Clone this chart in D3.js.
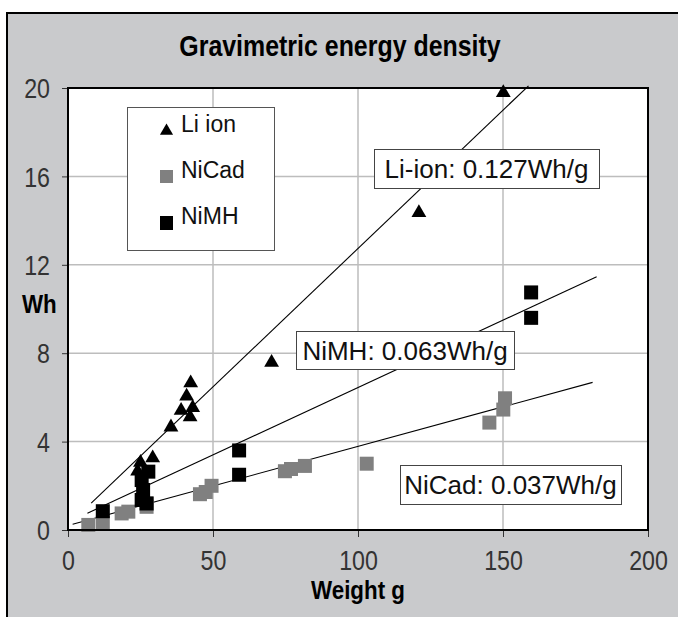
<!DOCTYPE html>
<html><head><meta charset="utf-8">
<script src="https://cdn.jsdelivr.net/npm/d3@7"></script>
<style>body{margin:0;background:#fff}svg{display:block}</style>
</head><body>
<svg id="c" width="678" height="617"></svg>
<script>
const xTicks = [0, 50, 100, 150, 200];
const yTicks = [0, 4, 8, 12, 16, 20];
const liIon = [[24,2.7],[25,3.1],[29.2,3.3],[35.5,4.7],[39,5.45],[42.1,5.16],[43,5.58],[40.9,6.1],[42.3,6.7],[70.2,7.62],[121,14.4],[150.1,19.83]];
const niCad = [[7,0.23],[12,0.33],[18.5,0.75],[20.8,0.83],[27.1,1.05],[27.1,1.2],[45.5,1.62],[47.5,1.72],[49.5,2.0],[74.8,2.66],[76.9,2.76],[81.7,2.9],[103,3.0],[145.3,4.86],[150.1,5.45],[150.7,5.96]];
const niMH = [[12,0.85],[27.1,1.2],[25.4,1.36],[25.9,1.81],[25.4,2.26],[27.7,2.64],[59,2.5],[59,3.6],[159.7,9.6],[159.7,10.75]];
const trendLi = [[8,1.22],[158.8,20.1]];
const trendNiMH = [[6.7,0.76],[182.3,11.46]];
const trendNiCad = [[1.6,0.26],[180.9,6.68]];
const labels = ["Li-ion: 0.127Wh/g", "NiMH: 0.063Wh/g", "NiCad: 0.037Wh/g"];
const legendNames = ["Li ion", "NiCad", "NiMH"];

const svg = d3.select("#c");
const font = "'Liberation Sans', Arial, sans-serif";
const L = 68, R = 648, T = 88, B = 530;
const x = d3.scaleLinear().domain([0,200]).range([L,R]);
const y = d3.scaleLinear().domain([0,20]).range([B,T]);
const SX = 0.86;

// outer frame
svg.append("rect").attr("x",7).attr("y",13).attr("width",690).attr("height",630)
  .attr("fill","#c9cacc").attr("stroke","#000").attr("stroke-width",2);

function narrowText(px, py, txt, size, bold, anchor){
  svg.append("g").attr("transform",`translate(${px},${py}) scale(${SX},1)`)
    .append("text").attr("text-anchor",anchor)
    .attr("font-family",font).attr("font-weight",bold?"bold":"normal")
    .attr("font-size",size).attr("fill","#000").text(txt);
}
// title
narrowText(340, 56, "Gravimetric energy density", 29, true, "middle");

// plot area
svg.append("rect").attr("x",L).attr("y",T).attr("width",R-L).attr("height",B-T).attr("fill","#fff");
// grid
const g = svg.append("g");
g.selectAll(".gx").data(xTicks.slice(1,-1)).join("line")
  .attr("x1",d=>x(d)).attr("x2",d=>x(d)).attr("y1",T).attr("y2",B)
  .attr("stroke","#bdbdbd").attr("stroke-width",1.5);
g.selectAll(".gy").data(yTicks.slice(1,-1)).join("line")
  .attr("y1",d=>y(d)).attr("y2",d=>y(d)).attr("x1",L).attr("x2",R)
  .attr("stroke","#bdbdbd").attr("stroke-width",1.5);

// axes
const xAxis = d3.axisBottom(x).tickValues(xTicks).tickSize(7).tickSizeOuter(0).tickPadding(10);
const yAxis = d3.axisLeft(y).tickValues(yTicks).tickSize(6).tickSizeOuter(0).tickPadding(10);
const gx = svg.append("g").attr("transform",`translate(0,${B})`).call(xAxis);
const gy = svg.append("g").attr("transform",`translate(${L},0)`).call(yAxis);
[gx,gy].forEach(a=>{
  a.select(".domain").remove();
  a.selectAll("line").attr("stroke","#333").attr("stroke-width",1);
  a.selectAll("text").attr("font-family",font).attr("font-size",27).attr("fill","#333")
    .attr("transform",`scale(${SX},1)`);
});
gx.selectAll("text").attr("y",18).attr("dy","0.8em");
gy.selectAll("text").attr("x",-18/SX).attr("dy","0.36em");

// axis titles
narrowText(358, 599, "Weight g", 26, true, "middle");
narrowText(22, 313, "Wh", 26, true, "start");

// trend lines
const line = d3.line().x(d=>x(d[0])).y(d=>y(d[1]));
[trendLi,trendNiMH,trendNiCad].forEach(t=>{
  svg.append("path").attr("d",line(t)).attr("fill","none").attr("stroke","#000").attr("stroke-width",1.1);
});

// markers
const tri = d3.symbol().type(d3.symbolTriangle).size(95);
svg.append("g").selectAll("rect").data(niCad).join("rect")
  .attr("x",d=>x(d[0])-7).attr("y",d=>y(d[1])-7).attr("width",14).attr("height",14).attr("fill","#808080");
svg.append("g").selectAll("rect").data(niMH).join("rect")
  .attr("x",d=>x(d[0])-7).attr("y",d=>y(d[1])-7).attr("width",14).attr("height",14).attr("fill","#000");
svg.append("g").selectAll("path").data(liIon).join("path")
  .attr("d",tri).attr("transform",d=>`translate(${x(d[0])},${y(d[1])+1})`).attr("fill","#000");

// plot border
svg.append("rect").attr("x",L).attr("y",T).attr("width",R-L).attr("height",B-T)
  .attr("fill","none").attr("stroke","#000").attr("stroke-width",2);

// legend
const lg = svg.append("g");
lg.append("rect").attr("x",127.5).attr("y",107.5).attr("width",147).attr("height",143)
  .attr("fill","#fff").attr("stroke","#555").attr("stroke-width",1);
const ly = [132,178,224];
lg.append("path").attr("d",d3.symbol().type(d3.symbolTriangle).size(75)())
  .attr("transform",`translate(166.5,${ly[0]-1})`).attr("fill","#000");
lg.append("rect").attr("x",160).attr("y",ly[1]-8).attr("width",13).attr("height",13).attr("fill","#808080");
lg.append("rect").attr("x",160).attr("y",ly[2]-8).attr("width",13).attr("height",14).attr("fill","#000");
lg.selectAll("text").data(legendNames).join("text")
  .attr("x",181).attr("y",(d,i)=>ly[i]).attr("font-family",font).attr("font-size",23).attr("fill","#111").text(d=>d);

// slope label boxes
const boxes = [[374,149,225,39],[296,331,218,38],[400,465,221,39]];
boxes.forEach((b,i)=>{
  svg.append("rect").attr("x",b[0]+0.5).attr("y",b[1]+0.5).attr("width",b[2]).attr("height",b[3])
    .attr("fill","#fff").attr("stroke","#444").attr("stroke-width",1);
  svg.append("text").attr("x",b[0]+b[2]/2).attr("y",b[1]+b[3]/2+9.5).attr("text-anchor","middle")
    .attr("font-family",font).attr("font-size",26).attr("fill","#111").text(labels[i]);
});
</script>
</body></html>
